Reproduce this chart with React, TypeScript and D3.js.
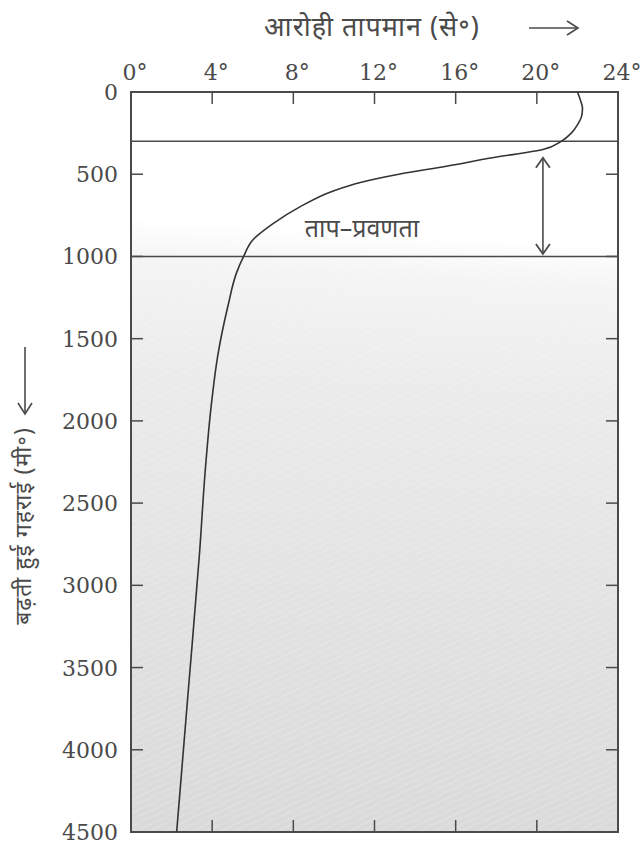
import React from "react";
import * as d3 from "d3";

const depths = [0, 50, 100, 150, 200, 250, 300, 350, 400, 450, 500, 550, 600, 700, 800, 900, 1000, 1100, 1300, 1600, 1900, 2300, 2800, 3600, 4500];
const temps = [22.0, 22.15, 22.25, 22.2, 22.0, 21.7, 21.2, 20.3, 17.8, 15.6, 13.2, 11.3, 10.0, 8.3, 7.0, 6.0, 5.55, 5.2, 4.78, 4.28, 3.96, 3.66, 3.38, 2.85, 2.25];
const tempTicks = [0, 4, 8, 12, 16, 20, 24];
const depthTicks = [0, 500, 1000, 1500, 2000, 2500, 3000, 3500, 4000, 4500];
const thermoclineBounds = [300, 1000];
const xTitle = "आरोही तापमान (से॰)";
const yTitle = "बढ़ती हुई गहराई (मी॰)";
const bandLabel = "ताप–प्रवणता";

const W = 643, H = 849;
const left = 131, right = 618, top = 92, bottom = 832;
const ink = "#4a4a4a";
const serif = "'DejaVu Serif', serif";
const sans = "'Noto Sans', 'DejaVu Sans', sans-serif";

export default function App() {
  const x = d3.scaleLinear().domain([0, 24]).range([left, right]);
  const y = d3.scaleLinear().domain([0, 4500]).range([top, bottom]);
  const pts = depths.map((d, i) => [temps[i], d] as [number, number]);
  const line = d3
    .line<[number, number]>()
    .x((p) => x(p[0]))
    .y((p) => y(p[1]))
    .curve(d3.curveMonotoneY);
  const tick = 12;
  const arrowX = x(20.3);
  const arrowTop = y(400);
  const arrowBot = y(985);
  return (
    <div style={{ position: "absolute", left: 0, top: 0 }}>
      <svg width={W} height={H} style={{ display: "block", background: "#fff" }}>
        <defs>
          <linearGradient id="bg" gradientUnits="userSpaceOnUse" x1={400} y1={92} x2={356} y2={832}>
            <stop offset="0" stopColor="#ffffff" />
            <stop offset="0.19" stopColor="#ffffff" />
            <stop offset="0.25" stopColor="#f4f4f4" />
            <stop offset="0.4" stopColor="#ebebeb" />
            <stop offset="0.7" stopColor="#e2e2e2" />
            <stop offset="1" stopColor="#dadada" />
          </linearGradient>
          <pattern id="hatch" width="6" height="6" patternUnits="userSpaceOnUse" patternTransform="rotate(-25)">
            <line x1="0" y1="0" x2="6" y2="0" stroke="#ffffff" strokeOpacity="0.2" strokeWidth="2" />
          </pattern>
        </defs>
        <rect x={left} y={top} width={right - left} height={bottom - top} fill="url(#bg)" />
        <rect x={left} y={y(1000)} width={right - left} height={bottom - y(1000)} fill="url(#hatch)" />

        {/* x title */}
        <text x={372} y={36} textAnchor="middle" fontFamily={sans} fontSize={27} fill={ink} letterSpacing={1}>
          {xTitle}
        </text>
        <line x1={529} x2={577} y1={28} y2={28} stroke={ink} strokeWidth={1.6} />
        <path d="M567,21 L578,28 L567,35" fill="none" stroke={ink} strokeWidth={1.6} />

        {/* y title */}
        <text
          transform={`translate(31,526) rotate(-90)`}
          textAnchor="middle"
          fontFamily={sans}
          fontSize={23}
          letterSpacing={1}
          fill={ink}
        >
          {yTitle}
        </text>
        <line x1={25} x2={25} y1={347} y2={413} stroke={ink} strokeWidth={1.6} />
        <path d="M18,403 L25,414 L32,403" fill="none" stroke={ink} strokeWidth={1.6} />

        {/* top ticks & labels */}
        {tempTicks.map((t) => (
          <g key={"xt" + t}>
            {t > 0 && t < 24 && (
              <>
                <line x1={x(t)} x2={x(t)} y1={top} y2={top + tick} stroke={ink} strokeWidth={1.5} />
                <line x1={x(t)} x2={x(t)} y1={bottom} y2={bottom - tick} stroke={ink} strokeWidth={1.5} />
              </>
            )}
            <text x={x(t) + 4} y={80} textAnchor="middle" fontFamily={serif} fontSize={22} fill={ink}>
              {t + "°"}
            </text>
          </g>
        ))}

        {/* left ticks & labels */}
        {depthTicks.map((d) => (
          <g key={"yt" + d}>
            {d > 0 && d < 4500 && (
              <>
                <line x1={left} x2={left + tick} y1={y(d)} y2={y(d)} stroke={ink} strokeWidth={1.5} />
                <line x1={right} x2={right - tick} y1={y(d)} y2={y(d)} stroke={ink} strokeWidth={1.5} />
              </>
            )}
            <text x={118} y={y(d) + 8} textAnchor="end" fontFamily={serif} fontSize={22} fill={ink}>
              {d}
            </text>
          </g>
        ))}

        {/* thermocline boundaries */}
        {thermoclineBounds.map((d) => (
          <line key={"tb" + d} x1={left} x2={right} y1={y(d)} y2={y(d)} stroke={ink} strokeWidth={1.5} />
        ))}

        {/* frame */}
        <rect x={left} y={top} width={right - left} height={bottom - top} fill="none" stroke={ink} strokeWidth={2} />

        {/* profile */}
        <path d={line(pts) || ""} fill="none" stroke="#333" strokeWidth={1.6} />

        {/* double arrow */}
        <line x1={arrowX} x2={arrowX} y1={arrowTop} y2={arrowBot} stroke={ink} strokeWidth={1.6} />
        <path d={`M${arrowX - 7},${arrowTop + 10} L${arrowX},${arrowTop} L${arrowX + 7},${arrowTop + 10}`} fill="none" stroke={ink} strokeWidth={1.8} />
        <path d={`M${arrowX - 7},${arrowBot - 10} L${arrowX},${arrowBot} L${arrowX + 7},${arrowBot - 10}`} fill="none" stroke={ink} strokeWidth={1.8} />

        <text x={362} y={237} textAnchor="middle" fontFamily={sans} fontSize={25} fill={ink}>
          {bandLabel}
        </text>
      </svg>
    </div>
  );
}
